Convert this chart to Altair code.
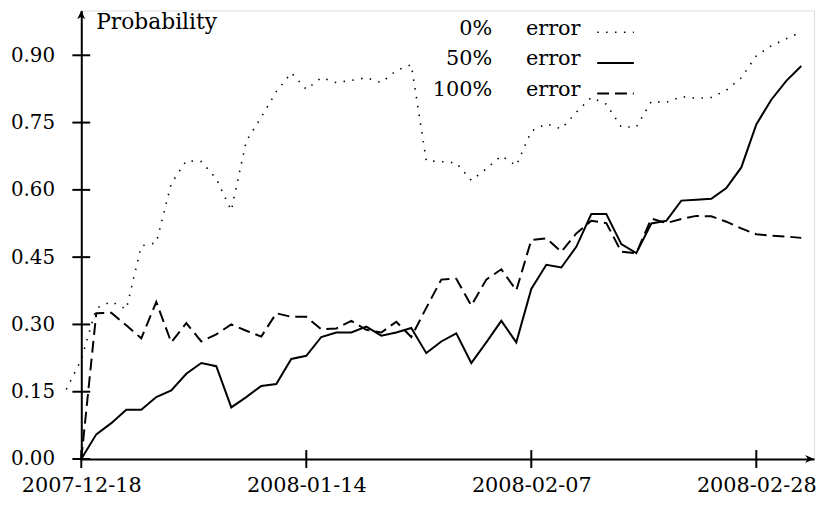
import altair as alt
import pandas as pd

# ---------------- data ----------------
date_labels = ["2007-12-18", "2008-01-14", "2008-02-07", "2008-02-28"]
date_ticks = [0, 15, 30, 45]
y_ticks = [0.0, 0.15, 0.30, 0.45, 0.60, 0.75, 0.90]
series_pct = ["0%", "50%", "100%"]
series_word = ["error", "error", "error"]

# 0% error (dotted) starts one step before the first tick
err0_idx = list(range(-1, 49))
err0 = [0.155, 0.222, 0.336, 0.351, 0.334, 0.475, 0.482, 0.614, 0.665, 0.663,
        0.625, 0.554, 0.709, 0.762, 0.819, 0.861, 0.824, 0.850, 0.839, 0.844,
        0.850, 0.839, 0.866, 0.879, 0.665, 0.663, 0.660, 0.621, 0.647, 0.676,
        0.654, 0.731, 0.747, 0.736, 0.773, 0.806, 0.791, 0.740, 0.740, 0.797,
        0.795, 0.808, 0.804, 0.806, 0.822, 0.850, 0.899, 0.921, 0.937, 0.952]

idx = list(range(0, 49))
err50 = [0.000, 0.055, 0.080, 0.110, 0.110, 0.138, 0.153, 0.190, 0.214, 0.207,
         0.115, 0.138, 0.163, 0.167, 0.223, 0.230, 0.272, 0.282, 0.282, 0.295,
         0.275, 0.282, 0.292, 0.236, 0.262, 0.280, 0.214, 0.260, 0.308, 0.260,
         0.379, 0.433, 0.427, 0.473, 0.546, 0.546, 0.479, 0.459, 0.525, 0.531,
         0.576, 0.578, 0.580, 0.604, 0.650, 0.746, 0.801, 0.843, 0.876]

err100 = [0.000, 0.325, 0.326, 0.298, 0.269, 0.350, 0.260, 0.303, 0.262, 0.278,
          0.300, 0.286, 0.273, 0.325, 0.317, 0.317, 0.289, 0.291, 0.308, 0.288,
          0.282, 0.306, 0.272, 0.337, 0.400, 0.402, 0.342, 0.400, 0.423, 0.376,
          0.488, 0.492, 0.462, 0.503, 0.531, 0.526, 0.462, 0.459, 0.536, 0.526,
          0.535, 0.542, 0.541, 0.529, 0.514, 0.501, 0.498, 0.496, 0.493]

# ---------------- layout / style ----------------
W, H = 740, 453
X_MAX = 48.85
Y_MAX = 1.0
FONT = "DejaVu Serif"

xs = alt.Scale(domain=[0, X_MAX], nice=False, zero=False)
ys = alt.Scale(domain=[0, Y_MAX], nice=False)

label_expr = "[" + ",".join("'%s'" % d for d in date_labels) + "][indexof([" + \
    ",".join(str(t) for t in date_ticks) + "], datum.value)]"

xaxis = alt.Axis(values=date_ticks, labelExpr=label_expr, ticks=False, grid=False,
                 domainColor="black", domainWidth=2, labelFont=FONT, labelFontSize=21,
                 labelColor="black", labelPadding=16, labelFlush=False,
                 labelOverlap=False, labelBound=False, title=None)
yaxis = alt.Axis(values=y_ticks, format=".2f", ticks=False, grid=False,
                 domainColor="black", domainWidth=2, labelFont=FONT, labelFontSize=20,
                 labelColor="black", labelPadding=27, labelFlush=False,
                 labelOverlap=False, title=None)


def X(f):
    return alt.X(f, type="quantitative", scale=xs, axis=xaxis, title=None)


def Y(f):
    return alt.Y(f, type="quantitative", scale=ys, axis=yaxis, title=None)


df0 = pd.DataFrame({"x": err0_idx, "y": err0})
df50 = pd.DataFrame({"x": idx, "y": err50})
df100 = pd.DataFrame({"x": idx, "y": err100})

dot_style = dict(color="black", strokeWidth=1.6, strokeDash=[1.5, 7.5])
solid_style = dict(color="black", strokeWidth=2)
dash_style = dict(color="black", strokeWidth=2, strokeDash=[12, 6])

line0 = alt.Chart(df0).mark_line(**dot_style).encode(x=X("x"), y=Y("y"))
line50 = alt.Chart(df50).mark_line(**solid_style).encode(x=X("x"), y=Y("y"))
line100 = alt.Chart(df100).mark_line(**dash_style).encode(x=X("x"), y=Y("y"))

# crossing ticks
ytick_df = pd.DataFrame({"y": y_ticks})
ytick = alt.Chart(ytick_df).mark_rule(color="black", strokeWidth=2).encode(
    y=Y("y"), x=alt.value(-9), x2=alt.value(9))
xtick_df = pd.DataFrame({"x": date_ticks})
xtick = alt.Chart(xtick_df).mark_rule(color="black", strokeWidth=2).encode(
    x=X("x"), y=alt.value(H - 9), y2=alt.value(H + 9))

# arrow heads
xarrow = alt.Chart(pd.DataFrame({"x": [X_MAX], "y": [0.0]})).mark_point(
    shape="M 0 0 L -1 -0.45 L -0.7 0 L -1 0.45 Z", size=324, filled=True,
    color="black", opacity=1).encode(x=X("x"), y=Y("y"))
yarrow = alt.Chart(pd.DataFrame({"x": [0.0], "y": [Y_MAX]})).mark_point(
    shape="M 0 0 L -0.45 1 L 0 0.7 L 0.45 1 Z", size=324, filled=True,
    color="black", opacity=1).encode(x=X("x"), y=Y("y"))

ylabel = alt.Chart(pd.DataFrame({"t": ["Probability"]})).mark_text(
    align="left", baseline="alphabetic", font=FONT, fontSize=22, color="black").encode(
    text="t:N", x=alt.value(15), y=alt.value(19))

# manual legend
styles = [dot_style, solid_style, dash_style]
legend_layers = []
for k in range(3):
    base_y = 24.5 + 31 * k
    tdf = pd.DataFrame({"p": [series_pct[k]], "w": [series_word[k]]})
    legend_layers.append(alt.Chart(tdf).mark_text(
        align="right", baseline="alphabetic", font=FONT, fontSize=21, color="black").encode(
        text="p:N", x=alt.value(415), y=alt.value(base_y)))
    legend_layers.append(alt.Chart(tdf).mark_text(
        align="left", baseline="alphabetic", font=FONT, fontSize=21, color="black").encode(
        text="w:N", x=alt.value(449), y=alt.value(base_y)))
    legend_layers.append(alt.Chart(tdf).mark_rule(**styles[k]).encode(
        x=alt.value(521), x2=alt.value(558), y=alt.value(base_y - 2.5)))

chart = alt.layer(line0, line50, line100, ytick, xtick, xarrow, yarrow, ylabel,
                  *legend_layers).properties(
    width=W, height=H,
    autosize=alt.AutoSizeParams(type="none"),
    padding={"left": 74, "top": 0, "right": 6, "bottom": 46},
).configure_view(stroke=None).configure(background="white")

chart.save("out.html", embed_options={"renderer": "svg", "actions": False})
